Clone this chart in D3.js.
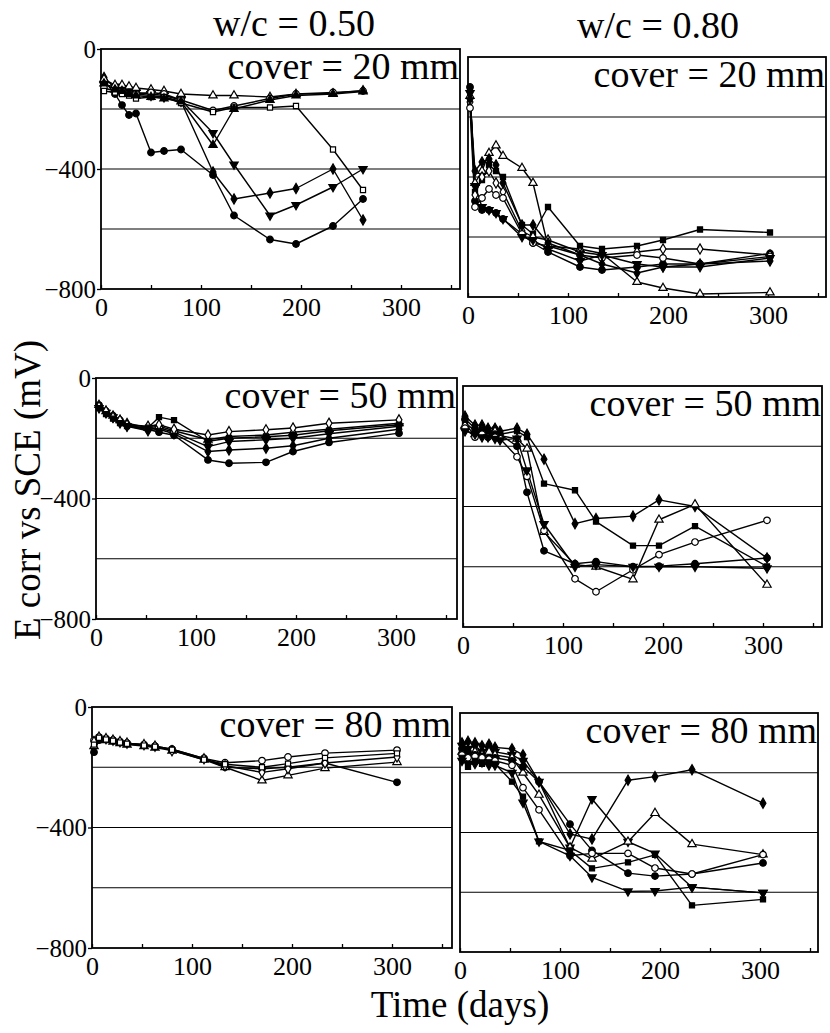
<!DOCTYPE html>
<html>
<head>
<meta charset="utf-8">
<script src="https://cdn.jsdelivr.net/npm/d3@7"></script>
<style>
  html, body { margin: 0; padding: 0; background: #fff; }
  svg { display: block; }
</style>
</head>
<body>
<svg id="chart" width="830" height="1033"></svg>
<script>
// ---------------- DATA ----------------
const wcTitles = ["w/c = 0.50", "w/c = 0.80"];
const coverLabels = ["cover = 20 mm", "cover = 50 mm", "cover = 80 mm"];
const xTickLabels = [0, 100, 200, 300];
const xMinorTicks = [0, 50, 100, 150, 200, 250, 300, 350];
const yTickLabels = [0, -400, -800];
const yGridValues = [-200, -400, -600];
const yAxisTitle = "E corr vs SCE (mV)";
const xAxisTitle = "Time (days)";

// Panel 1: w/c 0.50, cover 20 mm
const days1 = [3, 14, 21, 28, 35, 50, 63, 80, 112, 133, 169, 195, 232, 262];
const p1a = [-105, -150, -187, -220, -215, -345, -340, -335, -420, -555, -635, -650, -590, -500];
const p1b = [-95, -130, -135, -140, -150, -155, -160, -175, -410, -500, -480, -465, -400, -570];
const p1c = [-120, -125, -130, -140, -145, -150, -155, -170, -280, -385, -555, -520, -460, -400];
const p1d = [-100, -120, -120, -125, -130, -135, -140, -150, -155, -155, -160, -150, -148, -138];
const p1e = [-130, -140, -140, -150, -150, -145, -150, -170, -205, -190, -165, -150, -145, -140];
const p1f = [-140, -145, -150, -155, -165, -160, -160, -180, -210, -195, -195, -190, -335, -470];
const p1g = [-115, -135, -140, -150, -155, -160, -165, -175, -320, -200, -170, -155, -150, -142];
const markers1 = ["circleFilled", "diamondFilled", "triDownFilled", "triOpen", "circleOpen", "squareOpen", "triFilled"];

// Panel 2: w/c 0.80, cover 20 mm
const days2 = [2, 7, 14, 21, 28, 35, 54, 65, 80, 112, 134, 169, 195, 232, 302];
const p2a = [-100, -480, -510, -510, -520, -540, -590, -620, -650, -700, -710, -700, -690, -690, -655];
const p2b = [-130, -420, -380, -320, -295, -330, -370, -420, -630, -640, -655, -750, -770, -790, -785];
const p2c = [-110, -450, -410, -360, -380, -400, -560, -590, -500, -630, -640, -630, -610, -575, -585];
const p2d = [-150, -460, -400, -380, -420, -450, -580, -600, -610, -650, -660, -650, -640, -640, -660];
const p2e = [-170, -500, -470, -440, -460, -470, -590, -620, -630, -660, -670, -660, -670, -690, -665];
const p2f = [-120, -430, -500, -510, -520, -540, -600, -610, -640, -680, -660, -690, -700, -700, -670];
const p2g = [-140, -380, -350, -340, -360, -420, -560, -560, -620, -660, -690, -720, -700, -690, -680];
const markers2 = ["circleFilled", "triOpen", "squareFilled", "diamondOpen", "circleOpen", "triDownFilled", "diamondFilled"];

// Panel 3: w/c 0.50, cover 50 mm
const days3 = [3, 10, 17, 24, 31, 52, 63, 78, 112, 133, 170, 197, 233, 303];
const p3a = [-90, -110, -125, -140, -155, -170, -180, -190, -272, -283, -280, -244, -214, -183];
const p3b = [-95, -115, -130, -145, -160, -175, -170, -185, -244, -239, -233, -225, -200, -170];
const p3c = [-100, -115, -130, -150, -160, -170, -165, -180, -228, -211, -205, -200, -185, -160];
const p3d = [-90, -110, -125, -140, -150, -165, -160, -175, -205, -194, -189, -180, -170, -150];
const p3e = [-95, -110, -130, -140, -155, -160, -155, -170, -189, -178, -172, -166, -150, -139];
const p3f = [-100, -120, -135, -150, -160, -165, -130, -140, -210, -200, -195, -190, -175, -155];
const markers3 = ["circleFilled", "diamondFilled", "triDownFilled", "triOpen", "diamondOpen", "squareFilled"];

// Panel 4: w/c 0.80, cover 50 mm
const days4 = [2, 12, 19, 25, 32, 37, 54, 64, 81, 112, 133, 170, 196, 232, 304];
const p4a = [-120, -150, -140, -150, -145, -160, -150, -170, -324, -346, -450, -530, -530, -465, -599];
const p4b = [-100, -130, -130, -140, -140, -150, -140, -160, -243, -457, -440, -432, -378, -400, -571];
const p4c = [-130, -160, -150, -160, -150, -165, -175, -208, -485, -593, -600, -642, -444, -393, -660];
const p4d = [-110, -140, -150, -150, -160, -160, -200, -353, -547, -590, -583, -600, -598, -590, -571];
const p4e = [-140, -170, -160, -170, -170, -175, -235, -300, -480, -640, -683, -610, -560, -518, -446];
const p4f = [-150, -160, -170, -170, -175, -180, -174, -280, -458, -600, -593, -600, -600, -600, -605];
const markers4 = ["squareFilled", "diamondFilled", "triOpen", "circleFilled", "circleOpen", "triDownFilled"];

// Panel 5: w/c 0.50, cover 80 mm
const days5 = [2, 7, 14, 21, 28, 35, 52, 63, 80, 112, 133, 170, 196, 233, 305];
const p5a = [-150, -110, -105, -110, -115, -120, -125, -130, -140, -171, -200, -205, -200, -186, -250];
const p5b = [-110, -100, -105, -110, -115, -120, -125, -130, -140, -171, -185, -178, -166, -153, -143];
const p5c = [-130, -105, -110, -115, -120, -125, -130, -135, -145, -175, -200, -244, -227, -203, -183];
const p5d = [-115, -100, -105, -110, -115, -120, -125, -130, -145, -172, -195, -217, -205, -186, -166];
const p5e = [-125, -102, -108, -112, -118, -122, -128, -132, -142, -175, -190, -200, -188, -169, -154];
const markers5 = ["circleFilled", "circleOpen", "triOpen", "diamondOpen", "squareOpen"];

// Panel 6: w/c 0.80, cover 80 mm
const days6 = [2, 8, 15, 22, 29, 35, 52, 63, 79, 110, 132, 168, 195, 232, 303];
const p6a = [-100, -95, -100, -110, -105, -115, -120, -140, -230, -405, -422, -225, -213, -190, -302];
const p6b = [-110, -120, -110, -130, -120, -130, -140, -160, -230, -450, -288, -431, -470, -583, -602];
const p6c = [-130, -140, -130, -140, -130, -140, -150, -200, -274, -450, -488, -431, -335, -439, -474];
const p6d = [-120, -130, -140, -145, -150, -150, -160, -180, -230, -372, -460, -536, -546, -539, -502];
const p6e = [-140, -150, -145, -150, -155, -160, -175, -250, -324, -478, -470, -470, -519, -539, -474];
const p6f = [-160, -170, -170, -165, -175, -175, -200, -300, -430, -478, -550, -597, -596, -583, -602];
const p6g = [-150, -180, -160, -170, -165, -170, -230, -280, -430, -460, -520, -500, -475, -644, -624];
const markers6 = ["diamondFilled", "triDownFilled", "triOpen", "circleFilled", "circleOpen", "triDownFilled", "squareFilled"];

// ---------------- LAYOUT (positions only) ----------------
const layout = [
  { x0: 101, y0: 49,  x1: 460, y1: 289 },
  { x0: 468, y0: 57,  x1: 826, y1: 297 },
  { x0: 96,  y0: 378, x1: 457, y1: 619 },
  { x0: 463, y0: 386, x1: 822, y1: 627 },
  { x0: 92,  y0: 707, x1: 452, y1: 948 },
  { x0: 460, y0: 713, x1: 818, y1: 952 }
];

const panels = [
  { days: days1, series: [p1a, p1b, p1c, p1d, p1e, p1f, p1g], markers: markers1, cover: coverLabels[0], col: 0 },
  { days: days2, series: [p2a, p2b, p2c, p2d, p2e, p2f, p2g], markers: markers2, cover: coverLabels[0], col: 1 },
  { days: days3, series: [p3a, p3b, p3c, p3d, p3e, p3f], markers: markers3, cover: coverLabels[1], col: 0 },
  { days: days4, series: [p4a, p4b, p4c, p4d, p4e, p4f], markers: markers4, cover: coverLabels[1], col: 1 },
  { days: days5, series: [p5a, p5b, p5c, p5d, p5e], markers: markers5, cover: coverLabels[2], col: 0 },
  { days: days6, series: [p6a, p6b, p6c, p6d, p6e, p6f, p6g], markers: markers6, cover: coverLabels[2], col: 1 }
];

// ---------------- DRAW ----------------
const FONT = "'Liberation Serif', 'Times New Roman', serif";
const svg = d3.select("#chart");

function markerPath(type) {
  const base = type.replace(/Filled|Open/, "");
  const map = {
    circle: d3.symbolCircle,
    diamond: d3.symbolDiamond,
    triDown: d3.symbolTriangle,
    tri: d3.symbolTriangle,
    square: d3.symbolSquare
  };
  const size = base === "circle" ? 34 : (base === "square" ? 26 : 30);
  return d3.symbol().type(map[base]).size(size)();
}

panels.forEach((p, i) => {
  const L = layout[i];
  const x = d3.scaleLinear().domain([0, L.x1 - L.x0]).range([L.x0, L.x1]);
  const y = d3.scaleLinear().domain([0, -800]).range([L.y0, L.y1]);
  const g = svg.append("g");

  // gridlines
  g.selectAll("line.grid").data(yGridValues).join("line")
    .attr("x1", L.x0).attr("x2", L.x1)
    .attr("y1", d => y(d)).attr("y2", d => y(d))
    .attr("stroke", "#000").attr("stroke-width", 1.2);

  // frame
  g.append("rect")
    .attr("x", L.x0).attr("y", L.y0)
    .attr("width", L.x1 - L.x0).attr("height", L.y1 - L.y0)
    .attr("fill", "none").attr("stroke", "#000").attr("stroke-width", 1.8);

  // inward minor ticks on x axis
  const minor = g.append("g").attr("transform", `translate(0,${L.y1})`)
    .call(d3.axisBottom(x).tickValues(xMinorTicks).tickSize(-4).tickFormat(""));
  minor.select(".domain").remove();
  minor.selectAll("line").attr("stroke", "#000").attr("stroke-width", 1.3);

  // x tick labels
  const xa = g.append("g").attr("transform", `translate(0,${L.y1})`)
    .call(d3.axisBottom(x).tickValues(xTickLabels).tickSize(0).tickPadding(9).tickFormat(d3.format("d")));
  xa.select(".domain").remove();
  xa.selectAll("text").style("font-family", FONT).style("font-size", "26px").attr("fill", "#000");

  // y axis labels (left column only)
  if (p.col === 0) {
    const ya = g.append("g").attr("transform", `translate(${L.x0},0)`)
      .call(d3.axisLeft(y).tickValues(yTickLabels).tickSize(4).tickPadding(1).tickFormat(d3.format("d")));
    ya.select(".domain").remove();
    ya.selectAll("line").attr("stroke", "#000").attr("stroke-width", 1.3);
    ya.selectAll("text").style("font-family", FONT).style("font-size", "25px").attr("fill", "#000");
  }

  // series lines
  const line = d3.line().x(d => x(d[0])).y(d => y(d[1]));
  p.series.forEach((vals) => {
    const pts = p.days.map((d, k) => [d, vals[k]]);
    g.append("path").datum(pts)
      .attr("d", line)
      .attr("fill", "none").attr("stroke", "#000").attr("stroke-width", 1.4)
      .attr("stroke-linejoin", "round");
  });
  // markers
  p.series.forEach((vals, si) => {
    const type = p.markers[si];
    const filled = type.endsWith("Filled");
    const rot = type.startsWith("triDown") ? 180 : 0;
    const pts = p.days.map((d, k) => [d, vals[k]]);
    g.selectAll(null).data(pts).join("path")
      .attr("d", markerPath(type))
      .attr("transform", d => `translate(${x(d[0])},${y(d[1])}) rotate(${rot})`)
      .attr("fill", filled ? "#000" : "#fff")
      .attr("stroke", "#000").attr("stroke-width", 1.2);
  });

  // cover label
  g.append("text")
    .attr("x", L.x1 - 1).attr("y", L.y0 + 30)
    .attr("text-anchor", "end")
    .style("font-family", FONT).style("font-size", "38px")
    .text(p.cover);
});

// column titles
svg.append("text").attr("x", 294).attr("y", 36).attr("text-anchor", "middle")
  .style("font-family", FONT).style("font-size", "38px").text(wcTitles[0]);
svg.append("text").attr("x", 658).attr("y", 38).attr("text-anchor", "middle")
  .style("font-family", FONT).style("font-size", "38px").text(wcTitles[1]);

// axis titles
svg.append("text")
  .attr("transform", "translate(40,490) rotate(-90)")
  .attr("text-anchor", "middle")
  .style("font-family", FONT).style("font-size", "37px").text(yAxisTitle);
svg.append("text").attr("x", 460).attr("y", 1017).attr("text-anchor", "middle")
  .style("font-family", FONT).style("font-size", "37px").text(xAxisTitle);
</script>
</body>
</html>
